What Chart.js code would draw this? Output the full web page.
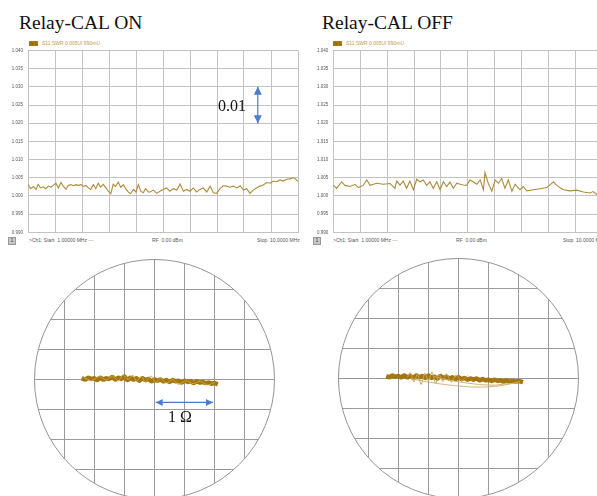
<!DOCTYPE html>
<html>
<head>
<meta charset="utf-8">
<script src="https://cdn.jsdelivr.net/npm/chart.js@4.4.1/dist/chart.umd.min.js"></script>
<style>
  body { margin: 0; width: 597px; height: 496px; overflow: hidden; background: #fff; position: relative; font-family: "Liberation Sans", Arial, sans-serif; }
  .pane { position: absolute; }
  .title { position: absolute; font-family: "Liberation Serif", "Times New Roman", serif; font-size: 19.5px; color: #111; white-space: nowrap; line-height: 1; }
  .hdr { position: absolute; font-size: 5px; color: #c09a48; white-space: nowrap; line-height: 1; }
  .tr { position: absolute; width: 9px; height: 5px; background: #a87c10; color: #6a4800; font-size: 4px; line-height: 5px; text-align: center; }
  .ftr { position: absolute; font-size: 5px; color: #555; white-space: nowrap; line-height: 1; }
  .num { position: absolute; width: 6px; height: 6px; background: #c8c8c8; border: 1px solid #999; font-size: 4.5px; line-height: 6px; text-align: center; color: #333; }
  .note { position: absolute; font-family: "Liberation Serif", "Times New Roman", serif; font-size: 16px; color: #111; white-space: nowrap; line-height: 1; }
</style>
</head>
<body>
<div class="title" style="left:19px; top:13px;">Relay-CAL ON</div>
<div class="title" style="left:322px; top:13px;">Relay-CAL OFF</div>

<div class="tr" style="left:29px; top:41px;">Tr 1</div>
<div class="hdr" style="left:42px; top:41px;">S11 SWR 0.005U/ 990mU</div>
<div class="tr" style="left:333px; top:41px;">Tr 1</div>
<div class="hdr" style="left:346px; top:41px;">S11 SWR 0.005U/ 990mU</div>

<div class="num" style="left:8px; top:237px;">1</div>
<div class="ftr" style="left:29px; top:238px;">&gt;Ch1: Start &nbsp;1.00000 MHz <span style="color:#c09a48">—</span></div>
<div class="ftr" style="left:152px; top:238px;">RF &nbsp;0.00 dBm</div>
<div class="ftr" style="left:257px; top:238px;">Stop &nbsp;10.0000 MHz</div>
<div class="num" style="left:313px; top:237px;">1</div>
<div class="ftr" style="left:333px; top:238px;">&gt;Ch1: Start &nbsp;1.00000 MHz <span style="color:#c09a48">—</span></div>
<div class="ftr" style="left:456px; top:238px;">RF &nbsp;0.00 dBm</div>
<div class="ftr" style="left:563px; top:238px;">Stop &nbsp;10.0000 MHz</div>

<div class="pane" style="left:0px; top:40px; width:300px; height:200px;"><canvas id="swrOn" width="300" height="200"></canvas></div>
<div class="pane" style="left:300px; top:40px; width:310px; height:200px;"><canvas id="swrOff" width="310" height="200"></canvas></div>
<div class="pane" style="left:34px; top:259px; width:241px; height:241px;"><canvas id="smithOn" width="241" height="241"></canvas></div>
<div class="pane" style="left:338px; top:258px; width:241px; height:241px;"><canvas id="smithOff" width="241" height="241"></canvas></div>

<div class="note" style="left:218px; top:98px;">0.01</div>
<div class="note" style="left:168px; top:409px;">1 Ω</div>

<script>
// SWR sweep, Relay-CAL ON (MHz / SWR)
const freqOn = [1.01,1.09,1.18,1.27,1.34,1.42,1.51,1.59,1.68,1.76,1.84,1.93,2.01,2.10,2.18,2.27,2.34,2.43,2.51,2.60,
  2.68,2.77,2.84,2.93,3.01,3.09,3.18,3.26,3.34,3.42,3.51,3.60,3.68,3.76,3.84,3.92,4.01,4.09,4.18,4.27,
  4.34,4.42,4.51,4.60,4.68,4.76,4.84,4.92,5.01,
  5.07,5.18,5.29,5.40,5.51,5.62,5.73,5.84,5.96,6.07,6.18,6.29,6.40,6.51,6.62,6.73,6.84,6.96,7.07,7.18,
  7.29,7.40,7.51,7.62,7.73,7.84,7.96,8.07,8.18,8.29,8.40,8.51,8.62,8.73,8.84,8.96,9.07,9.18,9.29,9.40,
  9.51,9.62,9.73,9.84,9.92,9.99];
const swrOn = [1.0031,1.0020,1.0026,1.0018,1.0032,1.0022,1.0025,1.0020,1.0027,1.0024,1.0029,1.0035,1.0022,1.0037,1.0026,1.0018,1.0029,1.0031,1.0028,1.0031,
  1.0029,1.0031,1.0026,1.0029,1.0022,1.0018,1.0031,1.0020,1.0035,1.0024,1.0032,1.0022,1.0013,1.0006,1.0032,1.0026,1.0038,1.0024,1.0031,1.0018,
  1.0011,1.0006,1.0018,1.0011,1.0031,1.0013,1.0009,1.0020,1.0011,
  1.0011,1.0016,1.0007,1.0013,1.0018,1.0022,1.0013,1.0020,1.0016,1.0033,1.0013,1.0018,1.0013,1.0022,1.0011,1.0018,1.0022,1.0011,1.0027,1.0009,
  1.0007,1.0020,1.0028,1.0027,1.0024,1.0027,1.0022,1.0028,1.0016,1.0020,1.0007,1.0016,1.0022,1.0027,1.0030,1.0037,1.0035,1.0041,1.0039,1.0044,
  1.0041,1.0046,1.0047,1.0050,1.0047,1.0040];

// SWR sweep, Relay-CAL OFF
const freqOff = [1.00,1.11,1.28,1.39,1.56,1.73,1.84,2.00,2.12,2.23,2.45,2.67,2.90,3.06,3.12,3.23,3.34,3.45,3.56,3.68,
  3.79,3.90,4.01,4.12,4.23,4.34,4.46,4.57,4.68,4.79,4.90,5.01,5.13,5.24,5.35,5.46,5.57,5.68,5.80,5.91,
  6.02,6.07,6.18,6.30,6.41,6.52,6.63,6.74,6.85,6.97,7.08,7.24,7.35,7.47,7.69,7.91,8.14,8.36,8.47,8.69,
  8.91,9.14,9.36,9.58,9.69,9.81,9.90,10.00];
const swrOff = [1.0030,1.0021,1.0039,1.0029,1.0026,1.0032,1.0023,1.0029,1.0044,1.0029,1.0035,1.0032,1.0034,1.0021,1.0041,1.0030,1.0041,1.0021,1.0041,1.0017,
  1.0046,1.0039,1.0044,1.0029,1.0039,1.0021,1.0039,1.0017,1.0039,1.0026,1.0038,1.0021,1.0035,1.0032,1.0030,1.0029,1.0044,1.0039,1.0032,1.0044,
  1.0017,1.0064,1.0035,1.0013,1.0044,1.0035,1.0048,1.0021,1.0044,1.0013,1.0032,1.0017,1.0026,1.0014,1.0017,1.0020,1.0023,1.0039,1.0029,1.0017,
  1.0014,1.0016,1.0011,1.0008,1.0012,1.0004,1.0003,1.0003];

const swrTicks = ["0.990","0.995","1.000","1.005","1.010","1.015","1.020","1.025","1.030","1.035","1.040"];

// zoomed Smith chart, impedance offset in ohms (re / im)
const reOn = [-1.21,-1.15,-1.10,-1.05,-1.00,-0.95,-0.90,-0.85,-0.80,-0.75,-0.70,-0.65,-0.60,-0.55,-0.50,-0.45,-0.40,-0.35,-0.30,-0.25,
  -0.20,-0.15,-0.10,-0.05,0.00,0.05,0.10,0.15,0.20,0.25,0.30,0.35,0.40,0.45,0.50,0.55,0.60,0.65,0.70,0.75,0.80,0.85,0.90,0.95,1.00,1.05];
const imOn = [0.02,0.00,0.03,0.01,0.02,-0.01,0.03,0.00,0.02,0.01,0.04,0.00,0.03,0.01,0.05,-0.01,0.03,0.00,0.02,-0.02,
  0.02,-0.01,0.01,-0.03,0.00,-0.02,0.00,-0.03,-0.01,-0.04,-0.01,-0.03,-0.02,-0.05,-0.02,-0.04,-0.03,-0.06,-0.03,-0.05,-0.04,-0.06,-0.05,-0.07,-0.06,-0.08];
const reOnFuzz = [-1.18,-1.05,-0.92,-0.80,-0.70,-0.60,-0.52,-0.44,-0.36,-0.30,-0.22,-0.15,-0.06,0.02,0.10,0.20,0.30,0.40,0.52,0.64,0.76,0.88,1.00];
const imOnFuzz = [0.04,-0.02,0.05,-0.01,0.06,-0.02,0.08,0.00,0.07,-0.03,0.05,-0.04,0.06,-0.05,0.02,-0.06,0.00,-0.08,-0.02,-0.07,-0.03,-0.09,-0.05];

const reOff = [-1.20,-1.15,-1.10,-1.05,-1.00,-0.95,-0.90,-0.85,-0.80,-0.75,-0.70,-0.65,-0.60,-0.55,-0.50,-0.45,-0.40,-0.35,-0.30,-0.25,
  -0.20,-0.15,-0.10,-0.05,0.00,0.05,0.10,0.15,0.20,0.25,0.30,0.35,0.40,0.45,0.50,0.55,0.60,0.65,0.70,0.75,0.80,0.85,0.90,0.95,1.00,1.07];
const imOff = [0.04,0.02,0.05,0.03,0.04,0.02,0.05,0.02,0.04,0.01,0.05,0.02,0.04,0.01,0.05,0.01,0.03,0.00,0.04,0.01,
  0.03,0.00,0.02,-0.01,0.02,-0.01,0.01,-0.02,0.00,-0.02,0.00,-0.03,-0.01,-0.03,-0.02,-0.04,-0.02,-0.04,-0.03,-0.05,-0.03,-0.05,-0.04,-0.05,-0.04,-0.06];
const reOffLoop = [-0.80,-0.55,-0.30,-0.05,0.20,0.45,0.70,0.90,1.02];
const imOffLoop = [0.00,-0.05,-0.09,-0.12,-0.14,-0.14,-0.12,-0.08,-0.05];
const reOffLoop2 = [-0.40,-0.15,0.10,0.35,0.60,0.85];
const imOffLoop2 = [0.03,-0.03,-0.07,-0.10,-0.11,-0.08];
const reOffFuzz = [-0.85,-0.80,-0.74,-0.68,-0.62,-0.56,-0.50,-0.44,-0.38,-0.32,-0.26,-0.20,-0.12,-0.04,0.05,0.15];
const imOffFuzz = [0.02,0.10,-0.06,0.08,-0.10,0.09,-0.04,0.11,-0.08,0.07,-0.05,0.08,-0.06,0.06,-0.04,0.05];

const pairs = (xs, ys) => xs.map((x, i) => ({x: x, y: ys[i]}));

function drawArrow(ctx, x1, y1, x2, y2, head) {
  const a = Math.atan2(y2 - y1, x2 - x1);
  const w = head / 2;
  ctx.save();
  ctx.strokeStyle = "#4a7cc9";
  ctx.fillStyle = "#4a7cc9";
  ctx.lineWidth = 1.2;
  ctx.beginPath();
  ctx.moveTo(x1, y1);
  ctx.lineTo(x2, y2);
  ctx.stroke();
  [[x1, y1, a + Math.PI], [x2, y2, a]].forEach(([x, y, t]) => {
    ctx.beginPath();
    ctx.moveTo(x, y);
    ctx.lineTo(x - head * Math.cos(t) + w * Math.sin(t), y - head * Math.sin(t) - w * Math.cos(t));
    ctx.lineTo(x - head * Math.cos(t) - w * Math.sin(t), y - head * Math.sin(t) + w * Math.cos(t));
    ctx.closePath();
    ctx.fill();
  });
  ctx.restore();
}

function swrChart(id, freq, swr, yWidth, pad, withArrow) {
  const plugins = [];
  if (withArrow) {
    plugins.push({
      id: "divArrow",
      afterDraw(chart) {
        const {x, y} = chart.scales;
        const px = x.getPixelForValue(8.66);
        drawArrow(chart.ctx, px, y.getPixelForValue(1.030), px, y.getPixelForValue(1.020), 8);
      },
    });
  }
  return new Chart(document.getElementById(id), {
    type: "line",
    data: {
      datasets: [{
        data: pairs(freq, swr),
        borderColor: "#ad8b3c",
        borderWidth: 1.1,
        pointRadius: 0,
        tension: 0,
      }],
    },
    options: {
      responsive: false,
      animation: false,
      layout: {padding: pad},
      plugins: {legend: {display: false}, tooltip: {enabled: false}},
      scales: {
        x: {
          type: "linear",
          min: 1,
          max: 10,
          ticks: {display: false, count: 11},
          grid: {color: "#c2c2c2", lineWidth: 1, drawTicks: false},
          border: {color: "#c2c2c2"},
          afterFit: (s) => {
            s.height = 0;
          },
        },
        y: {
          min: 0.99,
          max: 1.04,
          ticks: {
            count: 11,
            padding: 5,
            color: "#555",
            font: {size: 4.5, family: "Liberation Sans"},
            callback: (v, i) => swrTicks[i],
          },
          grid: {color: "#c2c2c2", lineWidth: 1, drawTicks: false},
          border: {color: "#c2c2c2"},
          afterFit: (s) => {
            s.width = yWidth;
          },
        },
      },
    },
    plugins: plugins,
  });
}

swrChart("swrOn", freqOn, swrOn, 28, {top: 10.5, bottom: 7.3, left: 0, right: 2}, true);
swrChart("swrOff", freqOff, swrOff, 33.3, {top: 10.5, bottom: 7.3, left: 0, right: 7.5}, false);

const roundClip = {
  id: "roundClip",
  beforeDraw(chart) {
    const {ctx, chartArea: a} = chart;
    ctx.save();
    ctx.beginPath();
    ctx.arc((a.left + a.right) / 2, (a.top + a.bottom) / 2, (a.right - a.left) / 2 - 0.5, 0, Math.PI * 2);
    ctx.clip();
  },
  afterDraw(chart) {
    const {ctx, chartArea: a} = chart;
    ctx.restore();
    ctx.save();
    ctx.strokeStyle = "#959595";
    ctx.lineWidth = 1;
    ctx.beginPath();
    ctx.arc((a.left + a.right) / 2, (a.top + a.bottom) / 2, (a.right - a.left) / 2 - 0.5, 0, Math.PI * 2);
    ctx.stroke();
    ctx.restore();
    if (chart.options.plugins.ohmArrow) {
      const {x, y} = chart.scales;
      const py = y.getPixelForValue(-0.38);
      drawArrow(ctx, x.getPixelForValue(0.02), py, x.getPixelForValue(0.97), py, 7);
    }
  },
};

function smithChart(id, sets, withArrow) {
  return new Chart(document.getElementById(id), {
    type: "scatter",
    data: {
      datasets: sets.map((s) => ({
        data: pairs(s[0], s[1]),
        showLine: true,
        borderColor: s[2],
        borderWidth: s[3],
        pointRadius: 0,
        tension: 0.2,
      })),
    },
    options: {
      responsive: false,
      animation: false,
      layout: {padding: 0},
      plugins: {legend: {display: false}, tooltip: {enabled: false}, ohmArrow: withArrow},
      scales: {
        x: {
          min: -2, max: 2,
          ticks: {display: false, count: 9},
          grid: {color: "#9a9a9a", lineWidth: 1, drawTicks: false},
          border: {display: false},
          afterFit: (s) => {
            s.height = 0;
          },
        },
        y: {
          min: -2, max: 2,
          ticks: {display: false, count: 9},
          grid: {color: "#9a9a9a", lineWidth: 1, drawTicks: false},
          border: {display: false},
          afterFit: (s) => {
            s.width = 0;
          },
        },
      },
    },
    plugins: [roundClip],
  });
}

smithChart("smithOn", [
  [reOnFuzz, imOnFuzz, "#c9a54e", 1],
  [reOn, imOn, "#a3760f", 4.5],
], true);

smithChart("smithOff", [
  [reOffLoop, imOffLoop, "#cdb277", 1],
  [reOffLoop2, imOffLoop2, "#cdb277", 1],
  [reOffFuzz, imOffFuzz, "#c9a54e", 1],
  [reOff, imOff, "#a3760f", 4.5],
], false);
</script>
</body>
</html>
